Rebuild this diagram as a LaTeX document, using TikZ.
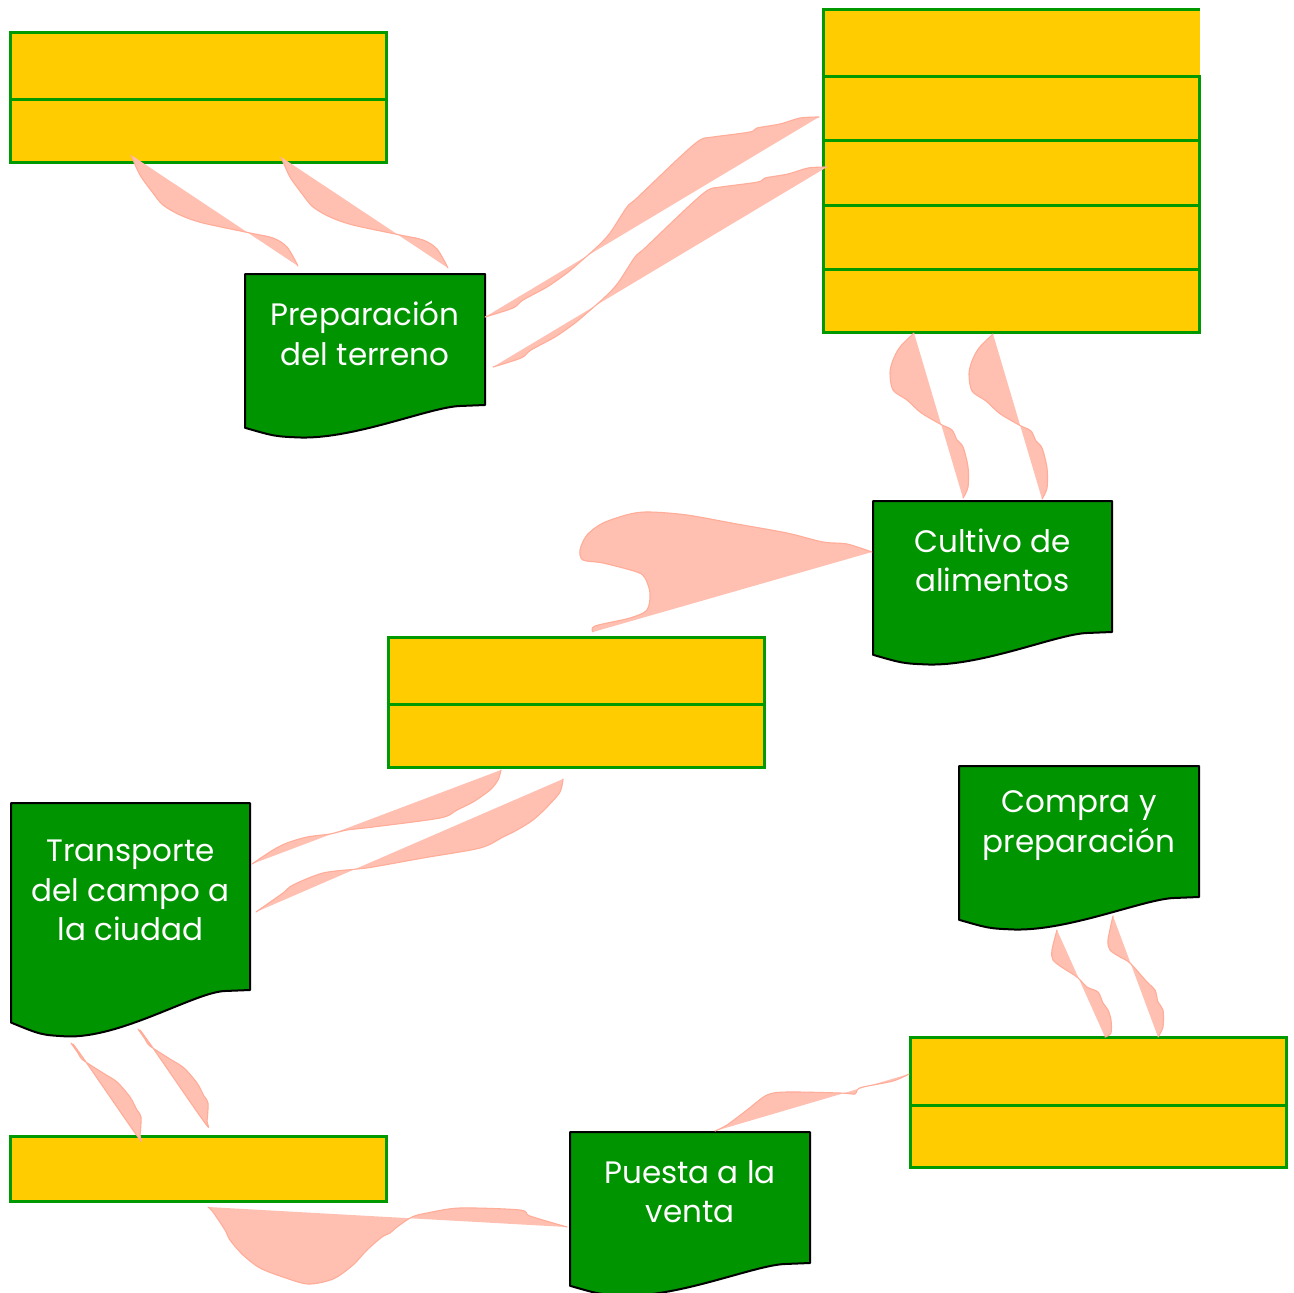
\documentclass[tikz,border=0pt]{standalone}
\usepackage{fontspec}
\setmainfont{Poppins}
\definecolor{yfill}{RGB}{255,204,0}
\definecolor{gline}{RGB}{0,153,0}
\definecolor{dfill}{RGB}{0,148,0}
\definecolor{pfill}{RGB}{255,192,178}
\definecolor{pline}{RGB}{255,172,152}
\tikzset{
  ybox/.style={fill=yfill,draw=gline,line width=3pt,anchor=north west,inner sep=0pt,outer sep=0pt},
  yonly/.style={fill=yfill,anchor=north west,inner sep=0pt,outer sep=0pt},
  gedge/.style={draw=gline,line width=3pt},
  docpath/.style={fill=dfill,draw=black,line width=2pt,line join=round},
  doctext/.style={text=white,align=center,font=\fontsize{31}{39.5}\selectfont,inner sep=0pt},
  ribfill/.style={fill=pfill},
  ribline/.style={draw=pline,line width=1.1pt,line join=round,line cap=round},
}
\newcommand{\ribbon}[2][]{%
  \begin{scope}[#1]
  \fill[ribfill] plot[smooth,tension=0.5] coordinates {#2} -- cycle;
  \draw[ribline] plot[smooth,tension=0.5] coordinates {#2};
  \end{scope}}
% #1 name, #2 x, #3 y, #4 w, #5 h, #6 text
\newcommand{\docnode}[6]{%
  \draw[docpath] (#2,#3) -- ({#2+#4},#3) -- ({#2+#4},{#3+#5}) -- ({#2+#4-25},{#3+#5+1})
    .. controls ({#2+#4-55},{#3+#5+2}) and ({#2+110},{#3+1.26*#5}) .. ({#2+55},{#3+1.248*#5})
    .. controls ({#2+30},{#3+1.24*#5}) .. (#2,{#3+1.174*#5}) -- cycle;
  \node[doctext] (#1) at ({#2+#4/2},{#3+#5/2-6}) {#6};}
\begin{document}
\begin{tikzpicture}[x=1pt,y=-1pt]
\useasboundingbox (0,0) rectangle (1294,1293);
\fill[white] (0,0) rectangle (1294,1293);

% yellow boxes
\node[ybox,minimum width=376pt,minimum height=67pt] (a1) at (10,32) {};
\node[ybox,minimum width=376pt,minimum height=63pt] (a2) at (10,99) {};

\node[yonly,minimum width=377pt,minimum height=67pt] (b1) at (823,9) {};
\draw[gedge] (1200,9) -- (823,9) -- (823,76);
\node[ybox,minimum width=376pt,minimum height=64pt] (b2) at (823,76) {};
\node[ybox,minimum width=376pt,minimum height=65pt] (b3) at (823,140) {};
\node[ybox,minimum width=376pt,minimum height=64pt] (b4) at (823,205) {};
\node[ybox,minimum width=376pt,minimum height=63pt] (b5) at (823,269) {};

\node[ybox,minimum width=376pt,minimum height=67pt] (c1) at (388,637) {};
\node[ybox,minimum width=376pt,minimum height=63pt] (c2) at (388,704) {};

\node[ybox,minimum width=376pt,minimum height=65pt] (d1) at (10,1136) {};

\node[ybox,minimum width=376pt,minimum height=68pt] (e1) at (910,1037) {};
\node[ybox,minimum width=376pt,minimum height=62pt] (e2) at (910,1105) {};

% documents
\docnode{prep}{245}{274}{240}{131}{Preparación\\del terreno}
\docnode{cult}{873}{501}{239}{131}{Cultivo de\\alimentos}
\docnode{trans}{11}{803}{239}{187}{Transporte\\del campo a\\la ciudad}
\docnode{comp}{959}{766}{240}{131}{Compra y\\preparación}
\docnode{pues}{570}{1132}{240}{131}{Puesta a la\\venta}

% ribbons: box A -> preparacion
\ribbon{(131,155) (140,175) (153,193) (163,205) (180,215) (203,223) (250,233) (273,238) (287,247) (298,266)}
\ribbon[shift={(150,2)}]{(131,155) (140,175) (153,193) (163,205) (180,215) (203,223) (250,233) (273,238) (287,247) (298,266)}

% preparacion -> box B
\ribbon{(485,317) (513,308) (523,300) (547,287) (567,273) (580,262) (597,247) (610,233) (627,207) (637,198) (680,157) (700,140) (713,137) (750,132) (757,128) (780,124) (800,118) (819,117)}
\ribbon[shift={(8,50)}]{(485,317) (513,308) (523,300) (547,287) (567,273) (580,262) (597,247) (610,233) (627,207) (637,198) (680,157) (700,140) (713,137) (750,132) (757,128) (780,124) (800,118) (819,117)}

% box B -> cultivo
\ribbon{(914,333) (900,347) (893,360) (890,373) (893,390) (907,400) (920,412) (933,420) (942,425) (952,430) (957,440) (963,447) (968,467) (968,487) (963,498)}
\ribbon[shift={(79,1)}]{(914,333) (900,347) (893,360) (890,373) (893,390) (907,400) (920,412) (933,420) (942,425) (952,430) (957,440) (963,447) (968,467) (968,487) (963,498)}

% cultivo -> box C
\ribbon{(593,632) (595,626) (630,618) (647,610) (650,593) (645,578) (637,572) (603,563) (583,560) (580,550) (587,535) (603,523) (630,514) (650,512) (687,515) (737,524) (787,533) (823,542) (847,544) (872,552)}

% box C -> transporte
\ribbon{(252,864) (273,850) (287,843) (307,837) (330,834) (347,830) (373,827) (440,818) (457,810) (473,802) (490,790) (498,780) (501,770)}
\ribbon{(256,912) (283,893) (293,885) (323,873) (357,869) (373,867) (423,858) (480,848) (503,837) (517,830) (533,820) (547,807) (560,792) (563,779)}

% transporte -> box D
\ribbon{(71,1043) (78,1053) (83,1060) (103,1073) (117,1082) (130,1097) (137,1110) (141,1117) (140,1135) (138,1137) (86,1062) (73,1044)}
\ribbon[shift={(67,-14)}]{(71,1043) (78,1053) (83,1060) (103,1073) (117,1082) (130,1097) (137,1110) (141,1117) (140,1135) (138,1137) (86,1062) (73,1044)}

% box D -> puesta
\ribbon{(208,1207) (213,1212) (225,1230) (230,1240) (243,1255) (260,1268) (283,1277) (308,1284) (333,1279) (353,1265) (367,1250) (382,1237) (390,1233) (397,1227) (412,1217) (427,1213) (460,1208) (520,1210) (530,1216) (567,1227)}

% box E -> puesta
\ribbon{(715,1131) (727,1125) (747,1110) (767,1095) (787,1092) (840,1093) (855,1094) (857,1090) (863,1087) (893,1081) (909,1074)}

% compra -> box E
\ribbon{(1057,930) (1052,950) (1053,960) (1063,968) (1077,977) (1087,987) (1098,992) (1103,1003) (1108,1010) (1111,1020) (1111,1033) (1105,1037)}
\ribbon{(1113,916) (1108,940) (1110,950) (1120,957) (1130,963) (1147,982) (1155,990) (1158,1002) (1163,1010) (1163,1027) (1158,1037)}
\end{tikzpicture}
\end{document}
